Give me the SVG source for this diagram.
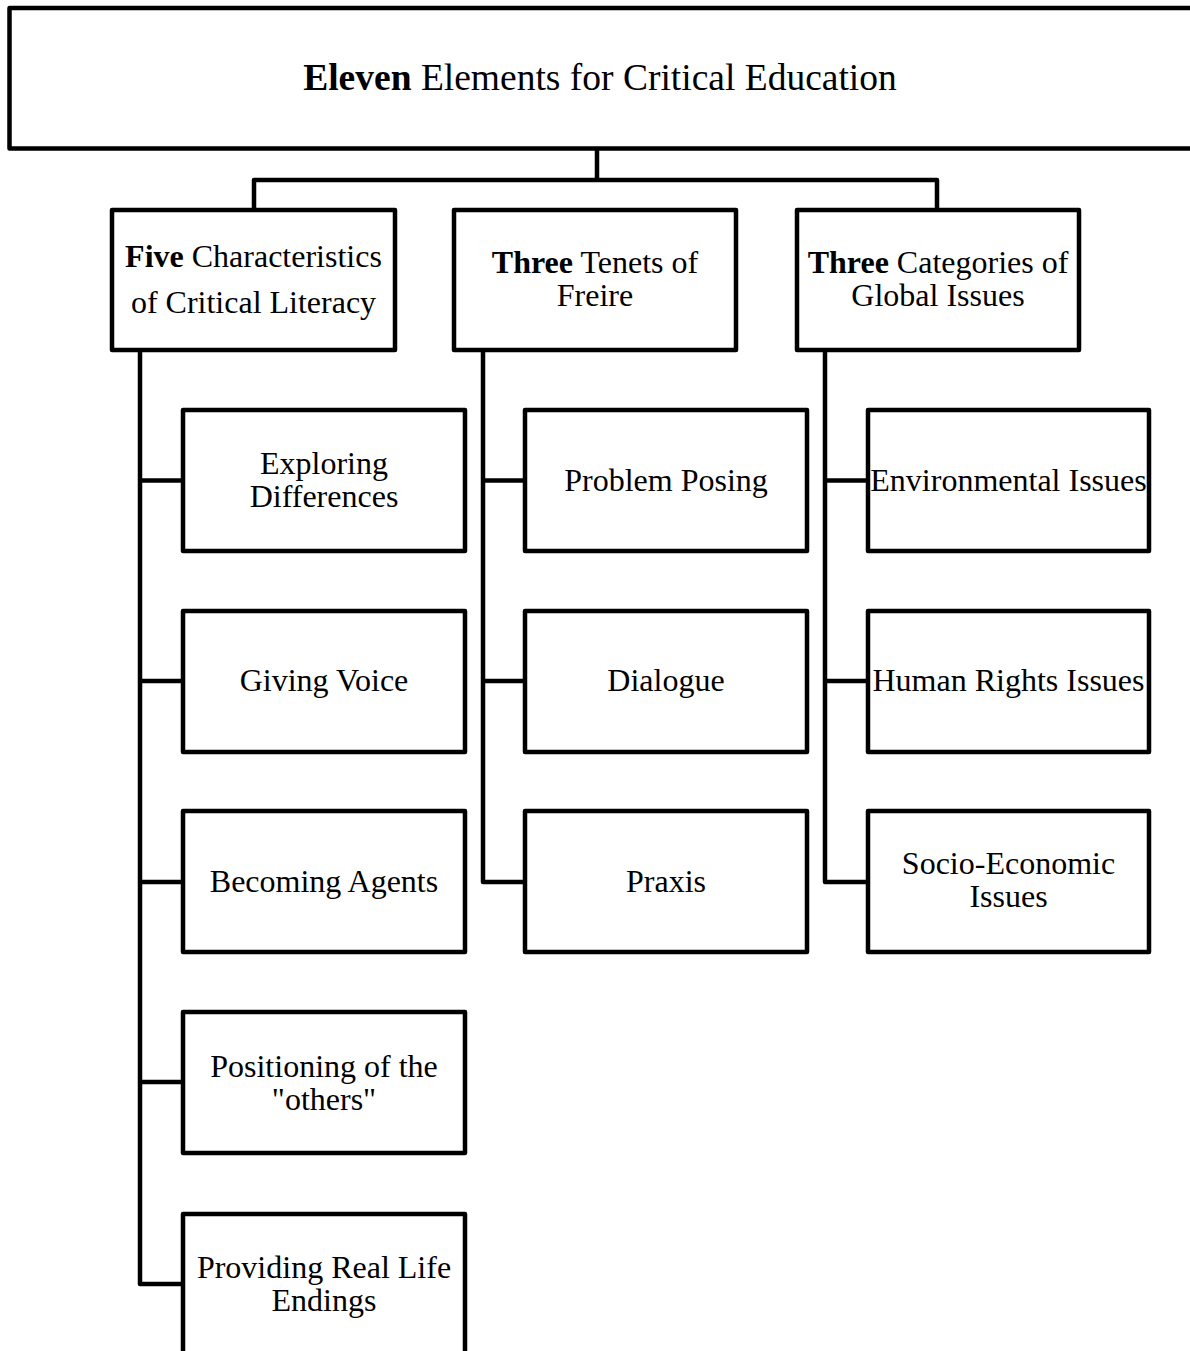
<svg xmlns="http://www.w3.org/2000/svg" width="1190" height="1351" viewBox="0 0 1190 1351">
<style>
.box{fill:#fff;stroke:#000;stroke-width:4.5;stroke-linejoin:round}
.con{fill:none;stroke:#000;stroke-width:4.5;stroke-linejoin:round}
text{font-family:"Liberation Serif","Times New Roman",serif;fill:#000;text-anchor:middle}
.t{font-size:37.5px}
.m{font-size:32px}
.b{font-weight:bold}
</style>
<rect width="1190" height="1351" fill="#fff"/>
<g id="connectors">
<path class="con" d="M597 149V180M254 210V180H937V210"/>
<path class="con" d="M140 350V1284H183M140 480.5H183M140 681H183M140 882H183M140 1082H183"/>
<path class="con" d="M483 350V882H525M483 480.5H525M483 681H525"/>
<path class="con" d="M825 350V882H868M825 480.5H868M825 681H868"/>
</g>
<g id="root">
<rect class="box" x="9.5" y="8" width="1200" height="140.5"/>
<text class="t" x="600" y="90"><tspan class="b">Eleven</tspan> Elements for Critical Education</text>
</g>
<g id="five">
<rect class="box" x="112" y="210" width="283" height="140"/>
<text class="m" x="253.5" y="267"><tspan class="b">Five</tspan> Characteristics</text>
<text class="m" x="253.5" y="313">of Critical Literacy</text>
</g>
<g id="tenets">
<rect class="box" x="454" y="210" width="282" height="140"/>
<text class="m" x="595" y="273"><tspan class="b">Three</tspan> Tenets of</text>
<text class="m" x="595" y="306">Freire</text>
</g>
<g id="categories">
<rect class="box" x="797" y="210" width="282" height="140"/>
<text class="m" x="938" y="273"><tspan class="b">Three</tspan> Categories of</text>
<text class="m" x="938" y="306">Global Issues</text>
</g>
<g id="exploring">
<rect class="box" x="183" y="410" width="282" height="141"/>
<text class="m" x="324" y="474">Exploring</text>
<text class="m" x="324" y="507">Differences</text>
</g>
<g id="voice">
<rect class="box" x="183" y="611" width="282" height="141"/>
<text class="m" x="324" y="691">Giving Voice</text>
</g>
<g id="agents">
<rect class="box" x="183" y="811" width="282" height="141"/>
<text class="m" x="324" y="892">Becoming Agents</text>
</g>
<g id="positioning">
<rect class="box" x="183" y="1012" width="282" height="141"/>
<text class="m" x="324" y="1077">Positioning of the</text>
<text class="m" x="324" y="1110">"others"</text>
</g>
<g id="endings">
<rect class="box" x="183" y="1214" width="282" height="141"/>
<text class="m" x="324" y="1278">Providing Real Life</text>
<text class="m" x="324" y="1311">Endings</text>
</g>
<g id="problem">
<rect class="box" x="525" y="410" width="282" height="141"/>
<text class="m" x="666" y="491">Problem Posing</text>
</g>
<g id="dialogue">
<rect class="box" x="525" y="611" width="282" height="141"/>
<text class="m" x="666" y="691">Dialogue</text>
</g>
<g id="praxis">
<rect class="box" x="525" y="811" width="282" height="141"/>
<text class="m" x="666" y="892">Praxis</text>
</g>
<g id="environmental">
<rect class="box" x="868" y="410" width="281" height="141"/>
<text class="m" x="1008.5" y="491">Environmental Issues</text>
</g>
<g id="human">
<rect class="box" x="868" y="611" width="281" height="141"/>
<text class="m" x="1008.5" y="691">Human Rights Issues</text>
</g>
<g id="socio">
<rect class="box" x="868" y="811" width="281" height="141"/>
<text class="m" x="1008.5" y="874">Socio-Economic</text>
<text class="m" x="1008.5" y="907">Issues</text>
</g>
</svg>
